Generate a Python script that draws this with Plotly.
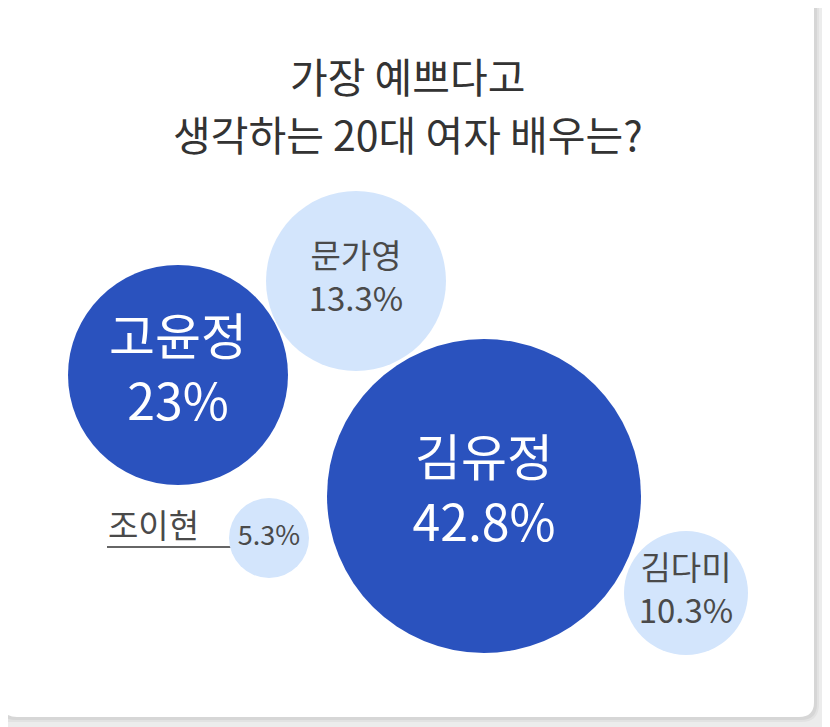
import plotly.graph_objects as go

# ---- data ----
names = ["김유정", "고윤정", "문가영", "김다미", "조이현"]
values = [42.8, 23, 13.3, 10.3, 5.3]
title_lines = ["가장 예쁘다고", "생각하는 20대 여자 배우는?"]

# ---- layout (pixel-space positions / sizes / styles) ----
W, H = 830, 727
OFF = 8  # page body margin compensation
bubble_x = [484, 178, 356, 686, 269]
bubble_y = [496, 375, 281, 593, 538]
bubble_d = [314, 220, 180, 124, 80]
dark, light = "#2a52be", "#d3e5fc"
bubble_color = [dark, dark, light, light, light]
text_color = ["white", "white", "#4a4a4a", "#4a4a4a", "#4a4a4a"]
text_size = [50, 50, 33, 33, 27]
FONT = "Noto Sans CJK KR, Noto Sans, sans-serif"


def rounded_rect(x0, y0, x1, y1, r):
    return (f"M {x0+r},{y0} L {x1-r},{y0} Q {x1},{y0} {x1},{y0+r} "
            f"L {x1},{y1-r} Q {x1},{y1} {x1-r},{y1} L {x0+r},{y1} "
            f"Q {x0},{y1} {x0},{y1-r} L {x0},{y0+r} Q {x0},{y0} {x0+r},{y0} Z")


labels = []
for n, v in zip(names, values):
    if n == "조이현":
        labels.append(f"{v:g}%")
    else:
        labels.append(f"{n}<br>{v:g}%")

fig = go.Figure()
fig.add_trace(go.Scatter(
    x=bubble_x, y=bubble_y, mode="markers+text",
    marker=dict(size=bubble_d, color=bubble_color, opacity=1, line=dict(width=0)),
    text=labels, textposition="middle center",
    textfont=dict(family=FONT, size=text_size, color=text_color),
    hoverinfo="skip", showlegend=False,
))

shapes = [
    dict(type="path", path=rounded_rect(-30, -30, 819, 722, 18), layer="below",
         fillcolor="#e2e2e2", line=dict(width=0)),
    dict(type="path", path=rounded_rect(0, -20, 817, 720, 16), layer="below",
         fillcolor="#d6d6d6", line=dict(width=0)),
    dict(type="path", path=rounded_rect(2, -20, 814, 717, 15), layer="below",
         fillcolor="white", line=dict(width=0)),
    dict(type="line", x0=107, x1=232, y0=547, y1=547, layer="below",
         line=dict(color="#666666", width=2)),
]

annotations = [
    dict(x=408, y=75, text=title_lines[0], showarrow=False,
         font=dict(family=FONT, size=41, color="#333333")),
    dict(x=408, y=133, text=title_lines[1], showarrow=False,
         font=dict(family=FONT, size=41, color="#333333")),
    dict(x=106, y=524, text=names[4], showarrow=False, xanchor="left",
         font=dict(family=FONT, size=33, color="#4a4a4a")),
]

fig.update_layout(
    width=W, height=H, margin=dict(l=0, r=0, t=0, b=0),
    paper_bgcolor="#ececec", plot_bgcolor="rgba(0,0,0,0)",
    xaxis=dict(range=[OFF, W + OFF], visible=False, fixedrange=True),
    yaxis=dict(range=[H + OFF, OFF], visible=False, fixedrange=True),
    shapes=shapes, annotations=annotations,
)

fig.write_html("out.html")
